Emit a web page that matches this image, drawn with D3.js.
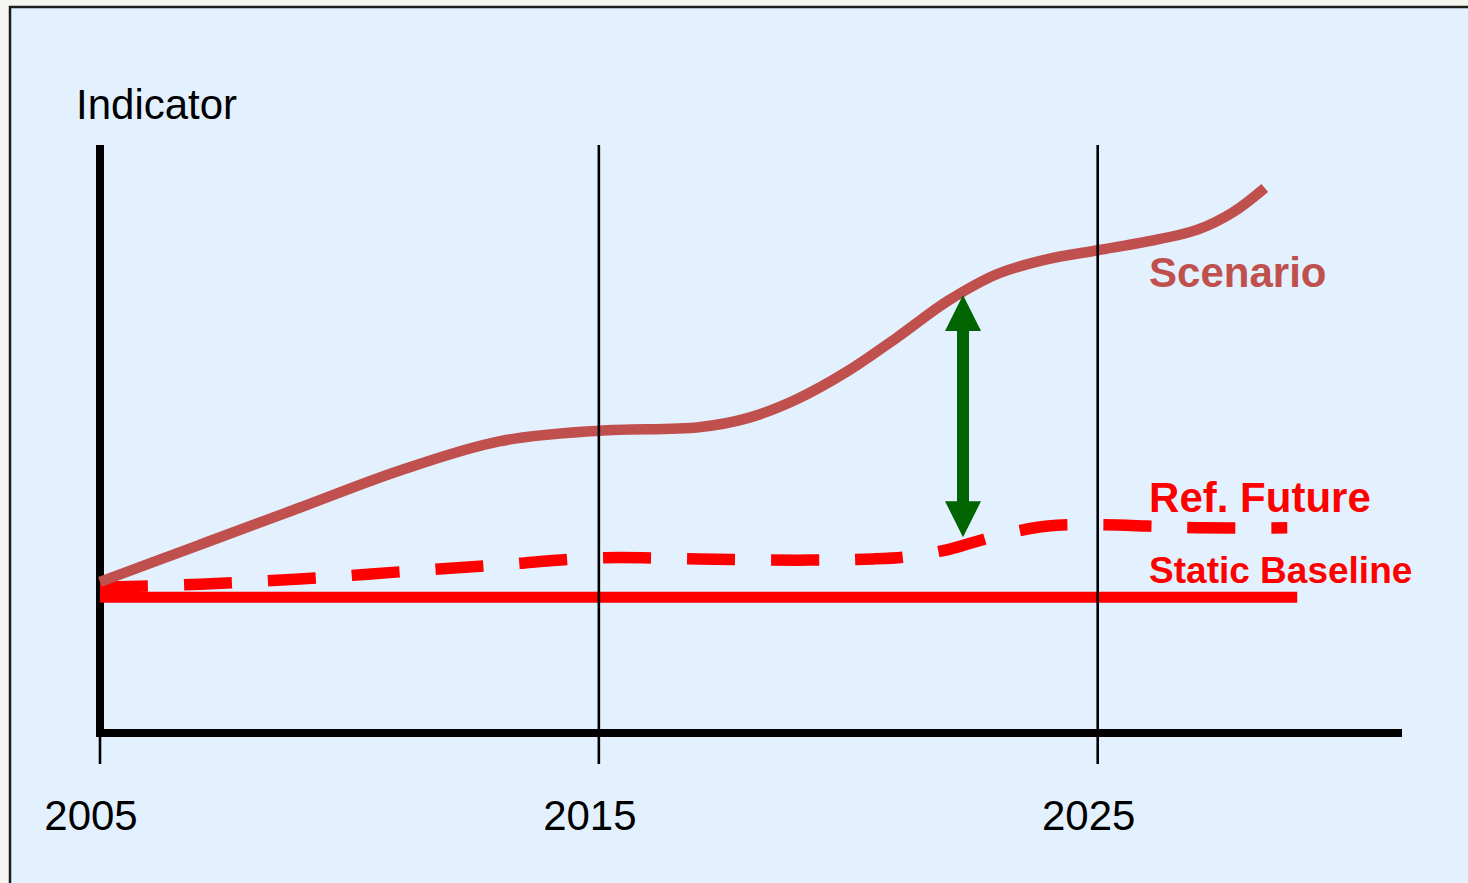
<!DOCTYPE html>
<meta charset="utf-8">
<html>
<head>
  <title>Indicator scenarios</title>
  <style>
    body {
      margin: 0;
      background: #f6f5f0;
    }
    svg {
      display: block;
      width: 1468px;
      height: 883px;
      font-family: 'Liberation Sans', Arial, Helvetica, sans-serif;
    }
  </style>
  <script src="https://d3js.org/d3.v7.min.js"></script>
</head>
<body>

  <svg></svg>

  <script>
    // tick labels on the time axis
    var tickYears = [2005, 2015, 2025];

    // scenario path (year, indicator)
    var scenarioYears  = [2005, 2007, 2009, 2011, 2013, 2015, 2017, 2018, 2019, 2020, 2021, 2022, 2023, 2024, 2025, 2026, 2027, 2027.7, 2028.35];
    var scenarioValues = [25.7, 32.0, 38.3, 44.6, 49.6, 51.4, 52.0, 53.6, 56.9, 61.6, 67.4, 73.5, 78.1, 80.6, 82.1, 83.6, 85.6, 88.5, 92.7];

    // reference future (dashed)
    var refYears  = [2005, 2007, 2009, 2011, 2013, 2015, 2017, 2019, 2020.5, 2021.2, 2022, 2023, 2024, 2025, 2026, 2027, 2028.8];
    var refValues = [24.8, 25.3, 26.2, 27.4, 28.6, 29.8, 29.6, 29.4, 29.6, 30.0, 31.2, 33.6, 35.2, 35.4, 35.2, 34.9, 34.9];

    // static baseline (flat)
    var baselineYears  = [2005, 2029];
    var baselineValues = [23.1, 23.1];

    // gap arrow between scenario and reference future
    var arrowYear = 2022.3;
    var arrowValues = [33.3, 74.5];

    var svg = d3.select("svg");

    var x = d3.scaleLinear().domain([2005, 2031.1]).range([100, 1402]);
    var y = d3.scaleLinear().domain([0, 100]).range([733, 145]);

    function pairs(xs, vs) {
      return xs.map(function(d, i) { return {year: d, value: vs[i]}; });
    }

    var line = d3.line()
      .x(function(d) { return x(d.year); })
      .y(function(d) { return y(d.value); })
      .curve(d3.curveCatmullRom.alpha(0.5));

    // panel
    svg.append("rect")
      .attr("x", 10).attr("y", 7)
      .attr("width", 1480).attr("height", 900)
      .attr("fill", "#e3f1fe")
      .attr("stroke", "#1c1c1c")
      .attr("stroke-width", 2.5);

    // y axis
    svg.append("line")
      .attr("x1", x(2005)).attr("x2", x(2005))
      .attr("y1", y(100)).attr("y2", y(0) + 4)
      .attr("stroke", "#000").attr("stroke-width", 8);

    // static baseline
    svg.append("path")
      .datum(pairs(baselineYears, baselineValues))
      .attr("d", line)
      .attr("fill", "none")
      .attr("stroke", "#ff0000")
      .attr("stroke-width", 11);

    // reference future
    svg.append("path")
      .datum(pairs(refYears, refValues))
      .attr("d", line)
      .attr("fill", "none")
      .attr("stroke", "#ff0000")
      .attr("stroke-width", 11.5)
      .attr("stroke-dasharray", "48,36");

    // scenario
    svg.append("path")
      .datum(pairs(scenarioYears, scenarioValues))
      .attr("d", line)
      .attr("fill", "none")
      .attr("stroke", "#c0504d")
      .attr("stroke-width", 10.5);

    // gridlines and ticks
    svg.selectAll(".grid")
      .data(tickYears)
      .enter().append("line")
      .attr("class", "grid")
      .attr("x1", function(d) { return x(d); })
      .attr("x2", function(d) { return x(d); })
      .attr("y1", function(d, i) { return i === 0 ? y(0) : y(100); })
      .attr("y2", y(0) + 31)
      .attr("stroke", "#000")
      .attr("stroke-width", 2.6);

    // x axis
    svg.append("line")
      .attr("x1", x(2005) - 4).attr("x2", x.range()[1])
      .attr("y1", y(0)).attr("y2", y(0))
      .attr("stroke", "#000").attr("stroke-width", 8);

    // tick labels
    svg.selectAll(".tick-label")
      .data(tickYears)
      .enter().append("text")
      .attr("class", "tick-label")
      .attr("x", function(d) { return x(d) - 9; })
      .attr("y", y(0) + 97)
      .attr("text-anchor", "middle")
      .attr("font-size", 42)
      .attr("fill", "#000")
      .text(function(d) { return d; });

    // axis title
    svg.append("text")
      .attr("x", 76).attr("y", 119)
      .attr("font-size", 42)
      .attr("fill", "#000")
      .text("Indicator");

    // gap arrow
    var ax = x(arrowYear), yb = y(arrowValues[0]), yt = y(arrowValues[1]);
    var hw = 18, hl = 36, sw = 6;
    svg.append("path")
      .attr("d", [
        "M", ax, yt,
        "L", ax + hw, yt + hl, "L", ax + sw, yt + hl,
        "L", ax + sw, yb - hl, "L", ax + hw, yb - hl,
        "L", ax, yb,
        "L", ax - hw, yb - hl, "L", ax - sw, yb - hl,
        "L", ax - sw, yt + hl, "L", ax - hw, yt + hl, "Z"
      ].join(" "))
      .attr("fill", "#006400");

    // series labels
    var labelX = x(2026.03);
    svg.append("text")
      .attr("x", labelX).attr("y", 287)
      .attr("font-size", 42).attr("font-weight", "bold")
      .attr("fill", "#c0504d")
      .text("Scenario");
    svg.append("text")
      .attr("x", labelX).attr("y", 512)
      .attr("font-size", 42).attr("font-weight", "bold")
      .attr("fill", "#ff0000")
      .text("Ref. Future");
    svg.append("text")
      .attr("x", labelX).attr("y", 583)
      .attr("font-size", 37).attr("font-weight", "bold")
      .attr("fill", "#ff0000")
      .text("Static Baseline");
  </script>
</body>
</html>
